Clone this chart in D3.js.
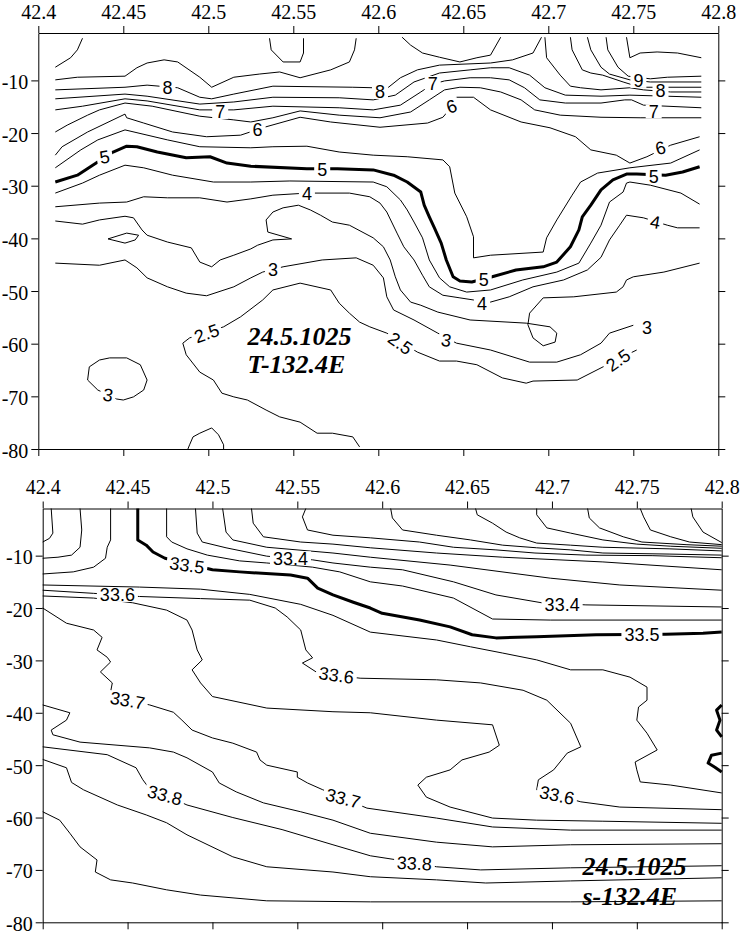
<!DOCTYPE html>
<html><head><meta charset="utf-8">
<script src="https://cdn.jsdelivr.net/npm/d3@7/dist/d3.min.js"></script>
<style>
body{margin:0;background:#fff;}
svg{display:block}
</style></head><body>
<svg width="741" height="936"></svg>
<script>
const xTicks=[42.4,42.45,42.5,42.55,42.6,42.65,42.7,42.75,42.8];
const yTicks=[-10,-20,-30,-40,-50,-60,-70,-80];

// ---------- Temperature section (top) ----------
const tempLines=[
{v:9.5,p:[[42.410,-7.5],[42.419,-5.7],[42.423,-4.2],[42.426,-2.0]]},
{v:9,p:[[42.410,-9.9],[42.423,-9.4],[42.451,-9.2],[42.458,-7.6],[42.464,-6.7],[42.474,-6.1],[42.482,-6.5],[42.495,-9.4],[42.502,-11.3],[42.515,-9.4],[42.530,-8.8],[42.542,-8.4],[42.554,-9.5],[42.572,-8.0],[42.583,-6.5],[42.586,-4.2],[42.587,-2.0]]},
{v:9.5,p:[[42.536,-2.0],[42.537,-4.2],[42.544,-6.5],[42.554,-6.5],[42.556,-4.8],[42.556,-2.0]]},
{v:8.5,p:[[42.410,-11.8],[42.451,-11.3],[42.464,-10.9],[42.482,-11.4],[42.495,-13.2],[42.502,-13.5],[42.515,-12.6],[42.538,-11.1],[42.585,-11.3],[42.597,-11.4],[42.606,-11.3],[42.613,-9.5],[42.623,-8.0],[42.636,-7.1],[42.666,-6.7],[42.679,-6.1],[42.691,-4.8],[42.696,-1.8]]},
{v:9,p:[[42.614,-1.8],[42.619,-3.3],[42.626,-4.8],[42.636,-5.6],[42.648,-6.5],[42.658,-5.7],[42.666,-5.2],[42.672,-1.8]]},
{v:8,p:[[42.698,-1.8],[42.699,-5.7],[42.707,-9.0],[42.713,-11.1],[42.719,-11.4],[42.731,-11.8],[42.748,-11.4],[42.756,-11.8],[42.772,-12.2],[42.790,-12.2]]},
{v:8.5,p:[[42.713,-1.8],[42.714,-4.2],[42.720,-8.0],[42.725,-8.6],[42.732,-9.0],[42.744,-10.3],[42.754,-11.3],[42.790,-11.3]]},
{v:9,p:[[42.723,-1.8],[42.725,-4.2],[42.731,-7.5],[42.736,-8.8],[42.748,-9.9],[42.760,-10.3],[42.790,-10.3]]},
{v:9.5,p:[[42.734,-1.8],[42.735,-4.2],[42.741,-7.5],[42.747,-9.2],[42.760,-9.7],[42.770,-9.4],[42.790,-9.2]]},
{v:10,p:[[42.746,-1.8],[42.748,-5.7],[42.754,-4.8],[42.764,-4.6],[42.776,-4.8],[42.790,-5.7]]},
{v:7.5,p:[[42.410,-13.5],[42.451,-12.6],[42.464,-13.0],[42.495,-14.5],[42.515,-14.1],[42.538,-13.2],[42.577,-13.3],[42.597,-13.7],[42.610,-12.8],[42.621,-10.3],[42.636,-8.6],[42.654,-8.0],[42.666,-7.6],[42.677,-7.6],[42.689,-9.0],[42.698,-11.4],[42.710,-12.8],[42.731,-13.0],[42.748,-12.8],[42.790,-13.2]]},
{v:7,p:[[42.410,-15.6],[42.426,-14.9],[42.451,-13.5],[42.464,-13.9],[42.495,-15.6],[42.515,-15.6],[42.538,-14.9],[42.577,-15.2],[42.597,-15.6],[42.613,-14.7],[42.625,-12.2],[42.632,-10.7],[42.639,-10.1],[42.654,-9.5],[42.666,-9.5],[42.677,-9.9],[42.686,-11.4],[42.695,-13.7],[42.710,-14.3],[42.731,-14.3],[42.745,-13.7],[42.749,-13.7],[42.756,-14.7],[42.790,-15.2]]},
{v:6.5,p:[[42.410,-19.8],[42.417,-18.5],[42.429,-16.6],[42.436,-15.6],[42.451,-14.3],[42.467,-14.9],[42.495,-16.8],[42.515,-17.5],[42.525,-17.9],[42.538,-17.1],[42.554,-15.8],[42.577,-16.6],[42.601,-17.1],[42.619,-16.0],[42.630,-13.7],[42.639,-11.8],[42.648,-11.3],[42.660,-11.4],[42.672,-12.2],[42.684,-13.7],[42.692,-15.6],[42.707,-16.6],[42.731,-17.0],[42.754,-17.1],[42.790,-17.1]]},
{v:6,p:[[42.410,-24.2],[42.414,-22.6],[42.429,-19.8],[42.451,-16.4],[42.452,-17.1],[42.462,-18.1],[42.479,-19.8],[42.499,-20.7],[42.519,-20.4],[42.533,-18.9],[42.554,-17.0],[42.572,-17.9],[42.601,-18.9],[42.629,-18.1],[42.638,-17.0],[42.643,-15.1],[42.646,-13.2],[42.656,-13.2],[42.666,-15.6],[42.684,-17.9],[42.701,-19.0],[42.716,-20.7],[42.725,-23.2],[42.740,-24.2],[42.748,-25.7],[42.758,-24.5],[42.772,-22.3],[42.789,-20.7]]},
{v:5.5,p:[[42.410,-26.6],[42.425,-23.2],[42.435,-21.3],[42.451,-19.4],[42.476,-21.3],[42.495,-22.6],[42.525,-22.8],[42.538,-22.6],[42.558,-22.5],[42.577,-23.6],[42.597,-24.2],[42.617,-24.5],[42.638,-25.1],[42.642,-26.4],[42.645,-31.4],[42.652,-35.9],[42.656,-39.7],[42.656,-43.7],[42.666,-43.2],[42.697,-42.6],[42.699,-39.9],[42.705,-36.5],[42.714,-31.8],[42.719,-29.3],[42.729,-27.6],[42.748,-26.6],[42.772,-25.7],[42.789,-23.2]]},
{v:5,p:[[42.410,-29.3],[42.423,-28.0],[42.432,-26.1],[42.444,-23.6],[42.452,-22.5],[42.458,-22.6],[42.470,-23.6],[42.487,-24.7],[42.501,-24.5],[42.511,-25.7],[42.525,-26.3],[42.558,-26.8],[42.576,-26.8],[42.597,-27.0],[42.609,-28.0],[42.617,-29.3],[42.625,-31.2],[42.627,-33.7],[42.630,-35.9],[42.633,-38.0],[42.637,-40.9],[42.640,-44.1],[42.644,-47.3],[42.648,-48.1],[42.655,-48.3],[42.667,-47.3],[42.681,-46.0],[42.697,-45.4],[42.705,-44.5],[42.713,-41.6],[42.718,-38.4],[42.720,-35.9],[42.725,-33.7],[42.731,-30.8],[42.738,-28.9],[42.746,-27.8],[42.752,-27.8],[42.769,-28.0],[42.779,-27.4],[42.789,-26.4]]},
{v:4.5,p:[[42.410,-31.4],[42.426,-29.5],[42.436,-28.0],[42.451,-26.1],[42.462,-26.6],[42.479,-28.0],[42.503,-29.3],[42.525,-29.3],[42.548,-29.1],[42.597,-29.3],[42.605,-30.2],[42.613,-32.7],[42.617,-34.6],[42.621,-36.9],[42.626,-39.9],[42.630,-44.1],[42.636,-47.5],[42.642,-49.2],[42.652,-50.2],[42.666,-49.8],[42.685,-47.9],[42.705,-46.4],[42.718,-44.7],[42.725,-40.9],[42.731,-37.5],[42.736,-33.1],[42.744,-31.2],[42.746,-29.5],[42.748,-29.3],[42.760,-29.9],[42.778,-31.4],[42.789,-33.5]]},
{v:4,p:[[42.410,-34.0],[42.436,-33.3],[42.452,-33.1],[42.462,-32.1],[42.476,-32.3],[42.495,-32.3],[42.511,-33.1],[42.525,-32.5],[42.538,-31.8],[42.558,-31.4],[42.583,-31.4],[42.595,-32.1],[42.601,-33.3],[42.605,-35.0],[42.611,-39.0],[42.615,-41.6],[42.621,-44.1],[42.626,-47.0],[42.630,-49.2],[42.638,-50.8],[42.648,-51.3],[42.656,-51.7],[42.666,-52.1],[42.677,-51.1],[42.691,-49.2],[42.709,-47.9],[42.723,-46.0],[42.731,-43.6],[42.736,-40.3],[42.742,-37.5],[42.746,-35.6],[42.756,-36.1],[42.770,-37.5],[42.776,-38.0],[42.789,-38.0]]},
{v:3.5,p:[[42.410,-36.7],[42.426,-37.3],[42.436,-36.5],[42.451,-35.8],[42.456,-36.1],[42.461,-38.4],[42.464,-39.4],[42.476,-40.7],[42.490,-41.8],[42.495,-44.5],[42.502,-45.4],[42.507,-44.1],[42.515,-43.2],[42.525,-42.0],[42.529,-41.3],[42.538,-40.3],[42.549,-40.1],[42.535,-38.8],[42.534,-36.5],[42.538,-35.0],[42.544,-34.2],[42.553,-33.7],[42.560,-34.6],[42.566,-35.6],[42.573,-36.9],[42.583,-37.5],[42.597,-39.9],[42.603,-41.6],[42.607,-44.1],[42.610,-47.3],[42.613,-49.8],[42.619,-52.1],[42.625,-52.7],[42.635,-54.0],[42.654,-55.5],[42.687,-56.1],[42.701,-56.8],[42.705,-58.0],[42.704,-59.7],[42.697,-60.4],[42.691,-58.9],[42.688,-56.4],[42.689,-54.2],[42.697,-51.3],[42.715,-51.1],[42.740,-50.2],[42.744,-49.2],[42.746,-47.9],[42.750,-47.3],[42.768,-46.4],[42.789,-44.7]]},
{v:3.5,p:[[42.441,-40.1],[42.452,-39.0],[42.459,-39.4],[42.457,-40.3],[42.451,-40.9],[42.441,-40.1]]},
{v:3,p:[[42.410,-44.7],[42.436,-45.1],[42.451,-44.1],[42.458,-45.6],[42.464,-47.5],[42.476,-49.2],[42.487,-50.4],[42.499,-50.9],[42.515,-49.2],[42.525,-47.5],[42.532,-46.4],[42.544,-45.4],[42.567,-44.1],[42.587,-43.7],[42.597,-45.1],[42.603,-47.5],[42.605,-51.1],[42.609,-53.6],[42.621,-55.5],[42.635,-58.0],[42.646,-59.9],[42.666,-61.2],[42.689,-63.5],[42.705,-63.5],[42.719,-62.1],[42.731,-59.9],[42.736,-58.0],[42.750,-56.5]]},
{v:2.5,p:[[42.589,-79.6],[42.585,-77.7],[42.573,-77.0],[42.564,-77.0],[42.554,-74.9],[42.542,-73.9],[42.534,-72.6],[42.523,-70.7],[42.515,-70.1],[42.508,-69.4],[42.503,-66.9],[42.495,-65.4],[42.487,-62.1],[42.485,-59.9],[42.489,-58.9],[42.509,-56.8],[42.519,-54.9],[42.532,-51.7],[42.538,-49.8],[42.554,-48.5],[42.572,-49.8],[42.577,-52.3],[42.583,-54.2],[42.589,-55.9],[42.595,-56.8],[42.605,-58.0],[42.623,-61.6],[42.636,-63.3],[42.646,-63.3],[42.658,-64.0],[42.673,-66.5],[42.687,-67.5],[42.691,-67.1],[42.717,-66.9],[42.731,-64.6],[42.740,-63.1],[42.752,-61.2]]},
{v:3,p:[[42.429,-66.9],[42.430,-64.4],[42.436,-63.1],[42.442,-62.7],[42.452,-62.7],[42.460,-64.0],[42.464,-66.9],[42.462,-68.8],[42.456,-70.1],[42.450,-70.7],[42.446,-70.5],[42.435,-68.8],[42.429,-66.9]]},
{v:2.5,p:[[42.488,-80],[42.489,-79.2],[42.491,-77.7],[42.495,-77.0],[42.502,-76.0],[42.506,-77.3],[42.509,-79.2],[42.509,-80]]}
];
const tempLabels=[
{t:"8",p:[42.476,-11.3],r:0},{t:"8",p:[42.601,-12.2],r:0},{t:"8",p:[42.766,-12.0],r:0},
{t:"9",p:[42.753,-10.1],r:0},
{t:"7",p:[42.507,-16.0],r:0},{t:"7",p:[42.762,-15.9],r:0},{t:"7",p:[42.632,-10.5],r:0},
{t:"6",p:[42.529,-19.4],r:0},{t:"6",p:[42.643,-14.9],r:-20},{t:"6",p:[42.766,-22.8],r:-15},
{t:"5",p:[42.439,-24.5],r:-10},{t:"5",p:[42.567,-27.0],r:0},{t:"5",p:[42.662,-47.9],r:0},{t:"5",p:[42.762,-28.2],r:0},
{t:"4",p:[42.558,-31.4],r:0},{t:"4",p:[42.661,-52.3],r:0},{t:"4",p:[42.763,-36.9],r:10},
{t:"3",p:[42.538,-46.0],r:0},{t:"3",p:[42.640,-59.3],r:10},{t:"3",p:[42.758,-57.0],r:0},{t:"3",p:[42.441,-69.7],r:10},
{t:"2.5",p:[42.499,-58.0],r:-20},{t:"2.5",p:[42.613,-59.9],r:35},{t:"2.5",p:[42.741,-63.1],r:-35}
];
const tempNote=["24.5.1025","T-132.4E"];
const tempNotePos=[[42.523,-60.2],[42.523,-65.6]];

// ---------- Salinity section (bottom) ----------
const salLines=[
{v:33.8,p:[[42.405,-1],[42.406,-5.7],[42.404,-6.7],[42.400,-7.4]]},
{v:33.7,p:[[42.422,-1],[42.423,-5.1],[42.422,-8.4],[42.417,-9.9],[42.409,-10.3],[42.400,-10.5]]},
{v:33.6,p:[[42.440,-1],[42.440,-7.0],[42.438,-8.4],[42.437,-10.5],[42.430,-12.2],[42.418,-13.1],[42.409,-13.3],[42.400,-13.5]]},
{v:33.5,p:[[42.456,-1],[42.456,-7.0],[42.461,-8.0],[42.465,-9.3],[42.472,-10.5],[42.500,-12.7],[42.516,-13.1],[42.546,-13.7],[42.556,-14.3],[42.562,-16.2],[42.571,-17.5],[42.583,-18.9],[42.593,-20.0],[42.600,-21.0],[42.622,-22.3],[42.640,-23.6],[42.653,-25.1],[42.667,-25.7],[42.691,-25.5],[42.726,-25.1],[42.767,-25.0],[42.789,-24.8],[42.800,-24.6]]},
{v:33.45,p:[[42.473,-1],[42.473,-6.4],[42.476,-7.4],[42.485,-8.7],[42.497,-9.9],[42.516,-11.0],[42.532,-11.4],[42.546,-11.8],[42.559,-12.2],[42.575,-13.1],[42.593,-15.0],[42.612,-15.8],[42.642,-18.1],[42.665,-22.1],[42.699,-22.3],[42.800,-22.3]]},
{v:33.4,p:[[42.490,-1],[42.491,-5.7],[42.494,-7.4],[42.508,-8.5],[42.532,-10.1],[42.546,-10.5],[42.559,-10.8],[42.571,-11.4],[42.593,-12.2],[42.612,-12.7],[42.642,-15.0],[42.667,-17.5],[42.694,-19.0],[42.720,-19.4],[42.800,-19.8]]},
{v:33.3,p:[[42.506,-1],[42.508,-5.5],[42.512,-7.0],[42.532,-8.4],[42.571,-9.5],[42.593,-10.3],[42.640,-11.8],[42.699,-14.3],[42.740,-15.6],[42.800,-16.6]]},
{v:33.25,p:[[42.523,-1],[42.524,-3.8],[42.530,-6.4],[42.552,-7.4],[42.571,-7.8],[42.593,-8.5],[42.632,-9.5],[42.671,-10.3],[42.730,-11.2],[42.800,-12.7]]},
{v:33.2,p:[[42.555,-1],[42.553,-2.6],[42.556,-5.1],[42.571,-6.1],[42.593,-6.6],[42.622,-7.4],[42.642,-8.4],[42.667,-8.9],[42.690,-9.5],[42.720,-9.9],[42.759,-10.0],[42.800,-10.4]]},
{v:33.15,p:[[42.605,-1],[42.606,-2.8],[42.612,-5.1],[42.632,-6.1],[42.652,-7.0],[42.671,-8.0],[42.691,-8.5],[42.711,-8.9],[42.730,-9.5],[42.769,-9.7],[42.800,-9.9]]},
{v:33.1,p:[[42.655,-1],[42.656,-2.2],[42.665,-3.8],[42.673,-5.5],[42.681,-6.6],[42.691,-7.6],[42.711,-8.0],[42.730,-8.4],[42.769,-8.7],[42.800,-9.1]]},
{v:33.05,p:[[42.691,-1],[42.691,-2.2],[42.697,-4.7],[42.711,-5.7],[42.730,-7.0],[42.750,-7.8],[42.770,-8.2],[42.800,-8.6]]},
{v:33.0,p:[[42.721,-1],[42.722,-2.8],[42.728,-4.7],[42.742,-6.4],[42.753,-7.4],[42.779,-7.9],[42.800,-8.2]]},
{v:32.95,p:[[42.752,-1],[42.754,-2.6],[42.758,-5.1],[42.770,-6.4],[42.781,-7.4],[42.800,-7.9]]},
{v:32.9,p:[[42.782,-1],[42.783,-2.6],[42.789,-5.5],[42.800,-7.5]]},
{v:33.55,p:[[42.400,-15.6],[42.457,-16.0],[42.493,-16.4],[42.522,-17.4],[42.552,-19.3],[42.571,-21.4],[42.593,-24.6],[42.632,-26.1],[42.652,-27.4],[42.671,-28.6],[42.691,-29.9],[42.711,-31.8],[42.730,-31.8],[42.746,-33.2],[42.756,-35.1],[42.756,-37.6],[42.751,-38.9],[42.750,-41.4],[42.756,-43.9],[42.762,-47.1],[42.749,-49.4],[42.750,-50.9],[42.752,-53.2],[42.770,-53.8],[42.800,-55.3]]},
{v:33.6,p:[[42.400,-16.6],[42.430,-17.2],[42.457,-17.8],[42.493,-18.2],[42.522,-18.5],[42.537,-20.0],[42.544,-21.7],[42.552,-24.2],[42.555,-28.0],[42.559,-29.5],[42.553,-30.5],[42.562,-32.4],[42.587,-33.4],[42.632,-33.7],[42.658,-34.3],[42.683,-35.7],[42.697,-37.6],[42.711,-42.0],[42.717,-46.5],[42.709,-47.7],[42.701,-50.9],[42.692,-52.8],[42.691,-54.7],[42.717,-57.0],[42.740,-58.0],[42.800,-58.5]]},
{v:33.65,p:[[42.400,-17.7],[42.430,-18.1],[42.453,-19.0],[42.473,-20.4],[42.485,-22.3],[42.488,-24.2],[42.491,-28.0],[42.494,-29.9],[42.488,-31.8],[42.493,-34.3],[42.500,-36.9],[42.532,-39.1],[42.571,-39.8],[42.593,-40.0],[42.632,-41.4],[42.665,-42.3],[42.669,-46.2],[42.663,-47.5],[42.647,-49.0],[42.640,-50.9],[42.626,-52.3],[42.621,-53.8],[42.626,-56.1],[42.640,-58.0],[42.665,-60.1],[42.691,-60.5],[42.730,-60.7],[42.800,-61.1]]},
{v:33.7,p:[[42.400,-20.0],[42.414,-22.9],[42.430,-24.2],[42.435,-25.6],[42.432,-28.0],[42.438,-29.4],[42.440,-30.3],[42.434,-32.2],[42.441,-34.3],[42.440,-36.0],[42.450,-37.6],[42.463,-38.5],[42.477,-39.9],[42.482,-41.4],[42.488,-43.3],[42.500,-44.8],[42.512,-45.8],[42.526,-47.5],[42.528,-49.0],[42.532,-50.0],[42.550,-51.3],[42.550,-52.3],[42.556,-53.4],[42.565,-54.7],[42.591,-58.2],[42.632,-60.1],[42.665,-61.8],[42.711,-62.4],[42.800,-62.4]]},
{v:33.75,p:[[42.400,-38.5],[42.416,-40.0],[42.414,-41.4],[42.405,-43.3],[42.406,-44.2],[42.422,-45.6],[42.463,-46.7],[42.477,-47.5],[42.485,-48.6],[42.500,-51.3],[42.504,-53.4],[42.514,-55.1],[42.530,-57.2],[42.552,-58.9],[42.571,-60.5],[42.593,-63.0],[42.632,-64.7],[42.665,-65.6],[42.711,-65.2],[42.800,-65.0]]},
{v:33.8,p:[[42.400,-46.5],[42.438,-48.0],[42.455,-50.5],[42.459,-52.8],[42.462,-54.1],[42.472,-55.7],[42.485,-57.6],[42.512,-60.0],[42.541,-62.3],[42.571,-65.2],[42.593,-67.3],[42.619,-68.6],[42.632,-69.4],[42.658,-70.0],[42.711,-69.6],[42.800,-69.2]]},
{v:33.85,p:[[42.400,-48.9],[42.414,-50.5],[42.417,-53.3],[42.424,-54.7],[42.444,-57.6],[42.461,-59.5],[42.473,-61.0],[42.485,-63.3],[42.512,-67.5],[42.532,-69.4],[42.571,-70.4],[42.593,-71.3],[42.632,-71.9],[42.661,-72.5],[42.711,-72.1],[42.800,-71.5]]},
{v:33.9,p:[[42.400,-58.9],[42.410,-60.5],[42.416,-63.0],[42.422,-65.6],[42.432,-68.1],[42.431,-70.4],[42.440,-71.9],[42.453,-72.5],[42.473,-73.8],[42.493,-74.8],[42.532,-75.9],[42.593,-76.1],[42.711,-76.1],[42.800,-75.9]]},
{v:33.5,p:[[42.800,-38.5],[42.797,-39.5],[42.799,-41.4],[42.797,-43.3],[42.800,-44.6]]},
{v:33.5,p:[[42.800,-47.7],[42.794,-48.1],[42.792,-49.6],[42.796,-50.4],[42.800,-51.3]]}
];
const salLabels=[
{t:"33.5",p:[42.485,-11.8],r:8},{t:"33.5",p:[42.753,-25.1],r:0},
{t:"33.4",p:[42.546,-10.5],r:0},{t:"33.4",p:[42.706,-19.4],r:0},
{t:"33.6",p:[42.444,-17.5],r:0},{t:"33.6",p:[42.573,-32.8],r:8},{t:"33.6",p:[42.703,-55.7],r:12},
{t:"33.7",p:[42.450,-37.6],r:10},{t:"33.7",p:[42.577,-56.3],r:15},
{t:"33.8",p:[42.472,-55.7],r:15},{t:"33.8",p:[42.619,-68.7],r:3}
];
const salNote=["24.5.1025","s-132.4E"];
const salNotePos=[[42.718,-71.0],[42.718,-76.7]];

const SERIF='"Liberation Serif","Times New Roman",Times,serif';
const SANS='"Liberation Sans",Arial,sans-serif';
const svg=d3.select("svg");
const fmtX=d=>String(+d.toFixed(2));
const fmtY=d=>String(d);

function panel(cfg){
  const x=d3.scaleLinear().domain([42.4,42.8]).range(cfg.xr);
  const y=d3.scaleLinear().domain([-1,-80]).range(cfg.yr);
  const g=svg.append("g");
  const line=d3.line().x(d=>x(d[0])).y(d=>y(d[1]));
  g.append("g").selectAll("path").data(cfg.lines).join("path")
    .attr("d",d=>line(d.p)).attr("fill","none").attr("stroke","#000")
    .attr("stroke-width",d=>d.v===cfg.thick?3:1).attr("stroke-linejoin","round");
  const lg=g.append("g").selectAll("g").data(cfg.labels).join("g")
    .attr("transform",d=>`translate(${x(d.p[0])},${y(d.p[1])}) rotate(${d.r})`);
  lg.each(function(d){
    const s=d3.select(this);
    const rect=s.append("rect").attr("fill","#fff");
    const t=s.append("text").attr("text-anchor","middle").attr("dy","0.36em")
      .attr("font-family",SANS).attr("font-size",18).attr("fill","#000").text(d.t);
    const b=t.node().getBBox();
    rect.attr("x",b.x-3).attr("y",-7).attr("width",b.width+6).attr("height",14);
  });
  g.append("g").selectAll("text").data(cfg.note).join("text")
    .attr("font-family",SERIF).attr("font-weight","bold").attr("font-style","italic")
    .attr("font-size",26).attr("fill","#000")
    .attr("x",(d,i)=>x(cfg.notePos[i][0])).attr("y",(d,i)=>y(cfg.notePos[i][1]))
    .text(d=>d);
  const ax=[
    [d3.axisTop(x).tickValues(xTicks).tickFormat(fmtX).tickPadding(cfg.padTop),`translate(0,${cfg.yr[0]})`],
    [d3.axisBottom(x).tickValues(xTicks).tickFormat(""),`translate(0,${cfg.yr[1]})`],
    [d3.axisLeft(y).tickValues(yTicks).tickFormat(fmtY).tickPadding(3),`translate(${cfg.xr[0]},0)`],
    [d3.axisRight(y).tickValues(yTicks).tickFormat(""),`translate(${cfg.xr[1]},0)`]
  ];
  ax.forEach(([a,t],k)=>{
    const gg=g.append("g").attr("transform",t).call(a.tickSize(7).tickSizeOuter(0));
    gg.attr("font-family",SERIF).attr("font-size",20);
    gg.select(".domain").attr("fill","none");
    gg.selectAll("path,line").attr("stroke","#000").attr("stroke-width",1);
    gg.selectAll("text").attr("fill","#000").style("font-family",SERIF).style("font-size","20px");
    if(k===2) gg.selectAll("text").attr("dy","0.4em");
  });
}
panel({xr:[38.3,718.3],yr:[33,449],lines:tempLines,labels:tempLabels,thick:5,note:tempNote,notePos:tempNotePos,padTop:7});
panel({xr:[42.7,721.7],yr:[508.5,922.3],lines:salLines,labels:salLabels,thick:33.5,note:salNote,notePos:salNotePos,padTop:7.5});
</script></body></html>
